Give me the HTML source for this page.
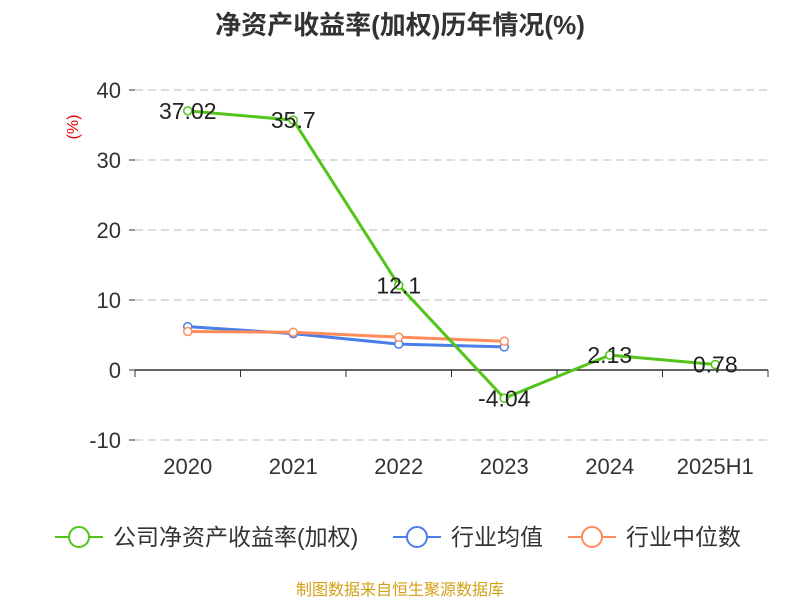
<!DOCTYPE html>
<html><head><meta charset="utf-8">
<style>
body{margin:0;background:#fff;font-family:"Liberation Sans","Noto Sans CJK SC",sans-serif;}
svg text{font-family:"Liberation Sans","Noto Sans CJK SC",sans-serif;}
</style></head><body>
<svg id="chart" width="800" height="600" viewBox="0 0 800 600">
<text x="400" y="34" text-anchor="middle" font-size="26" font-weight="bold" fill="#333">净资产收益率(加权)历年情况(%)</text>
<text x="78" y="127" font-size="16" fill="#e00" transform="rotate(-90 78 127)" text-anchor="middle">(%)</text>
<g id="grid"></g><g id="axes"></g><g id="series"></g>
<g>
<g><line x1="55" y1="537" x2="103" y2="537" stroke="#52c41a" stroke-width="2"/><circle cx="79" cy="537" r="10" fill="#fff" stroke="#52c41a" stroke-width="2"/><text x="113" y="545" font-size="23" fill="#333">公司净资产收益率(加权)</text></g>
<g><line x1="393" y1="537" x2="441" y2="537" stroke="#4a7ee8" stroke-width="2"/><circle cx="417" cy="537" r="10" fill="#fff" stroke="#4a7ee8" stroke-width="2"/><text x="451" y="545" font-size="23" fill="#333">行业均值</text></g>
<g><line x1="568" y1="537" x2="616" y2="537" stroke="#ff8c5a" stroke-width="2"/><circle cx="592" cy="537" r="10" fill="#fff" stroke="#ff8c5a" stroke-width="2"/><text x="626" y="545" font-size="23" fill="#333">行业中位数</text></g>
</g>
<text x="400" y="595" text-anchor="middle" font-size="16" fill="#d4a017">制图数据来自恒生聚源数据库</text>
</svg>
<script>
const categories=["2020","2021","2022","2023","2024","2025H1"];
const companyValues=[37.02,35.7,12.1,-4.04,2.13,0.78];
const companyLabels=["37.02","35.7","12.1","-4.04","2.13","0.78"];
const industryAvg=[6.2,5.2,3.7,3.3];
const industryMedian=[5.5,5.4,4.7,4.1];
const yTicks=[-10,0,10,20,30,40];
const NS="http://www.w3.org/2000/svg";
const x0=135,x1=768,yTop=90,yMin=-10,yMax=40,yBot=440;
const band=(x1-x0)/categories.length;
function xs(i){return x0+band*(i+0.5);}
function ys(v){return yBot-(v-yMin)/(yMax-yMin)*(yBot-yTop);}
function mk(tag,attrs,parent){const e=document.createElementNS(NS,tag);for(const k in attrs)e.setAttribute(k,attrs[k]);parent.appendChild(e);return e;}
const grid=document.getElementById('grid'),axes=document.getElementById('axes'),series=document.getElementById('series');
yTicks.forEach(t=>{
 if(t!==0){const l=mk('line',{x1:x0,x2:x1,y1:ys(t),y2:ys(t),stroke:'#bbb','stroke-dasharray':'8,5'},grid);
 
 }
 mk('line',{x1:x0-6,x2:x0,y1:ys(t),y2:ys(t),stroke:'#333'},axes);
 const tx=mk('text',{x:x0-14,y:ys(t)+8,'text-anchor':'end','font-size':22,fill:'#333'},axes);tx.textContent=t;
 
 
});
const ax=mk('line',{x1:x0,x2:x1,y1:ys(0),y2:ys(0),stroke:'#333','stroke-width':1.5},axes);


for(let i=0;i<=categories.length;i++){mk('line',{x1:x0+band*i,x2:x0+band*i,y1:ys(0),y2:ys(0)+7,stroke:'#333'},axes);}
categories.forEach((c,i)=>{const t=mk('text',{x:xs(i),y:474,'text-anchor':'middle','font-size':22,fill:'#333'},axes);t.textContent=c;
 
 });
function drawLine(vals,color,name){
 const p=mk('polyline',{points:vals.map((v,i)=>xs(i)+','+ys(v)).join(' '),fill:'none',stroke:color,'stroke-width':3},series);
 
 
 vals.forEach((v,i)=>{const c=mk('circle',{cx:xs(i),cy:ys(v),r:4,fill:'#fff',stroke:color,'stroke-width':1.5},series);
 
 });
}
drawLine(industryAvg,'#4a7ee8','industry-avg');
drawLine(industryMedian,'#ff8c5a','industry-median');
drawLine(companyValues,'#52c41a','company');
companyValues.forEach((v,i)=>{const t=mk('text',{x:xs(i),y:ys(v)+8,'text-anchor':'middle','font-size':23,fill:'#222'},series);t.textContent=companyLabels[i];
 
 });
</script>
</body></html>
